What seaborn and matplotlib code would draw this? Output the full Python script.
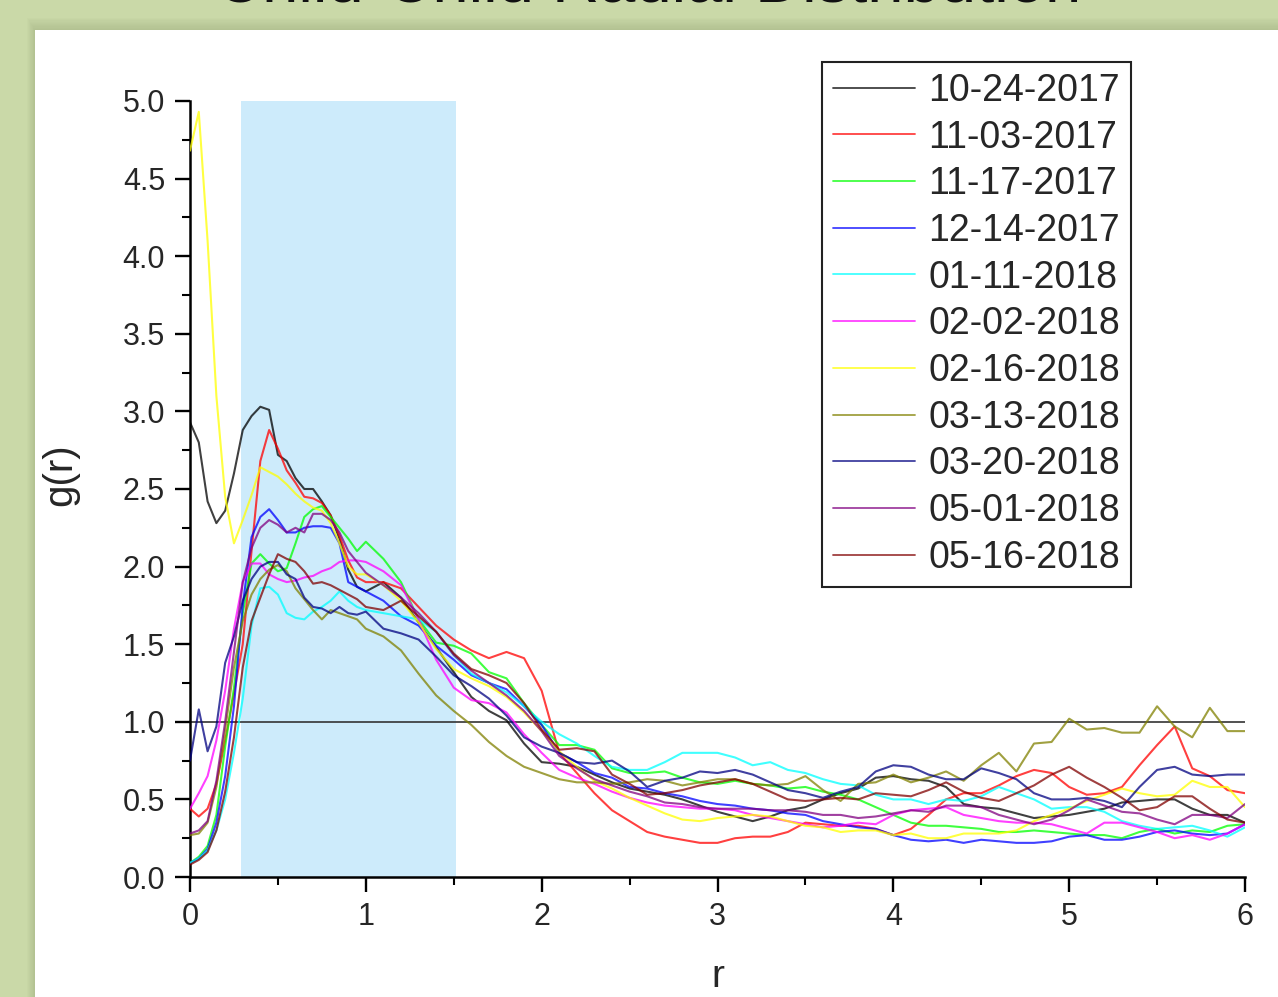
import numpy as np
import pandas as pd
import matplotlib
matplotlib.use("Agg")
import matplotlib.pyplot as plt
from matplotlib.patches import Rectangle
import seaborn as sns

# radial grid: fine spacing near the first peak, coarser further out
r = np.concatenate([np.round(np.arange(0, 1.0001, 0.05), 2),
                    np.round(np.arange(1.1, 6.0001, 0.1), 2)])

dates = ["10-24-2017", "11-03-2017", "11-17-2017", "12-14-2017", "01-11-2018",
         "02-02-2018", "02-16-2018", "03-13-2018", "03-20-2018", "05-01-2018",
         "05-16-2018"]

g_1024_2017 = [2.93, 2.80, 2.42, 2.28, 2.36, 2.60, 2.88, 2.97, 3.03, 3.01, 2.72,
               2.68, 2.57, 2.50, 2.50, 2.42, 2.33, 2.18, 1.98, 1.87, 1.84,
               1.90, 1.80, 1.64, 1.48, 1.32, 1.16, 1.07, 1.01, 0.86, 0.74,
               0.73, 0.71, 0.66, 0.61, 0.57, 0.55, 0.53, 0.50, 0.46, 0.42,
               0.39, 0.36, 0.39, 0.43, 0.45, 0.50, 0.54, 0.57, 0.64, 0.65,
               0.63, 0.62, 0.58, 0.47, 0.45, 0.44, 0.41, 0.38, 0.39, 0.40,
               0.42, 0.44, 0.48, 0.49, 0.50, 0.50, 0.44, 0.40, 0.40, 0.35]
g_1103_2017 = [0.44, 0.39, 0.44, 0.60, 0.88, 1.18, 1.50, 2.10, 2.68, 2.88, 2.76,
               2.62, 2.54, 2.45, 2.44, 2.41, 2.33, 2.20, 2.04, 1.93, 1.90,
               1.90, 1.86, 1.74, 1.62, 1.53, 1.46, 1.41, 1.45, 1.41, 1.20,
               0.80, 0.67, 0.54, 0.43, 0.36, 0.29, 0.26, 0.24, 0.22, 0.22,
               0.25, 0.26, 0.26, 0.29, 0.35, 0.34, 0.33, 0.33, 0.31, 0.27,
               0.31, 0.40, 0.50, 0.54, 0.54, 0.59, 0.65, 0.69, 0.67, 0.58,
               0.53, 0.54, 0.58, 0.72, 0.85, 0.97, 0.70, 0.65, 0.56, 0.54]
g_1117_2017 = [0.09, 0.13, 0.20, 0.40, 0.84, 1.22, 1.70, 2.02, 2.08, 2.02, 1.97,
               1.99, 2.15, 2.32, 2.37, 2.39, 2.32, 2.25, 2.18, 2.10, 2.16,
               2.05, 1.90, 1.66, 1.51, 1.49, 1.44, 1.32, 1.28, 1.12, 0.98,
               0.85, 0.85, 0.82, 0.70, 0.67, 0.67, 0.68, 0.64, 0.61, 0.60,
               0.62, 0.60, 0.59, 0.57, 0.58, 0.55, 0.53, 0.50, 0.45, 0.40,
               0.35, 0.33, 0.33, 0.32, 0.31, 0.29, 0.29, 0.30, 0.29, 0.28,
               0.27, 0.27, 0.25, 0.29, 0.31, 0.28, 0.30, 0.29, 0.33, 0.34]
g_1214_2017 = [0.09, 0.12, 0.18, 0.35, 0.65, 1.10, 1.75, 2.19, 2.32, 2.37, 2.30,
               2.22, 2.22, 2.25, 2.26, 2.26, 2.25, 2.15, 1.90, 1.87, 1.84,
               1.78, 1.68, 1.62, 1.49, 1.40, 1.30, 1.25, 1.21, 1.10, 0.98,
               0.80, 0.74, 0.67, 0.64, 0.58, 0.57, 0.54, 0.52, 0.49, 0.47,
               0.46, 0.44, 0.43, 0.41, 0.40, 0.36, 0.34, 0.32, 0.31, 0.27,
               0.24, 0.23, 0.24, 0.22, 0.24, 0.23, 0.22, 0.22, 0.23, 0.26,
               0.27, 0.24, 0.24, 0.26, 0.29, 0.30, 0.28, 0.27, 0.28, 0.34]
g_0111_2018 = [0.09, 0.12, 0.17, 0.30, 0.50, 0.80, 1.15, 1.62, 1.86, 1.87, 1.82,
               1.70, 1.67, 1.66, 1.71, 1.74, 1.78, 1.84, 1.78, 1.74, 1.72,
               1.70, 1.68, 1.66, 1.58, 1.43, 1.31, 1.25, 1.19, 1.10, 1.00,
               0.92, 0.86, 0.78, 0.71, 0.69, 0.69, 0.74, 0.80, 0.80, 0.80,
               0.77, 0.72, 0.74, 0.69, 0.67, 0.63, 0.60, 0.59, 0.53, 0.50,
               0.50, 0.47, 0.50, 0.49, 0.52, 0.58, 0.54, 0.50, 0.44, 0.45,
               0.45, 0.42, 0.36, 0.33, 0.31, 0.32, 0.33, 0.30, 0.26, 0.32]
g_0202_2018 = [0.44, 0.54, 0.65, 0.88, 1.20, 1.60, 1.90, 2.02, 2.02, 1.95, 1.92,
               1.90, 1.91, 1.93, 1.94, 1.97, 1.99, 2.03, 2.04, 2.04, 2.03,
               1.97, 1.88, 1.66, 1.40, 1.22, 1.14, 1.12, 1.06, 0.92, 0.80,
               0.69, 0.64, 0.60, 0.55, 0.51, 0.48, 0.46, 0.45, 0.44, 0.44,
               0.43, 0.40, 0.38, 0.36, 0.34, 0.32, 0.33, 0.35, 0.34, 0.40,
               0.43, 0.44, 0.45, 0.40, 0.38, 0.36, 0.35, 0.35, 0.34, 0.31,
               0.28, 0.35, 0.35, 0.32, 0.29, 0.25, 0.27, 0.24, 0.28, 0.34]
g_0216_2018 = [4.68, 4.93, 4.10, 3.10, 2.45, 2.15, 2.30, 2.46, 2.64, 2.61, 2.58,
               2.53, 2.47, 2.42, 2.38, 2.36, 2.28, 2.15, 2.00, 1.95, 1.95,
               1.88, 1.78, 1.64, 1.47, 1.34, 1.28, 1.23, 1.16, 1.06, 0.94,
               0.81, 0.71, 0.62, 0.57, 0.51, 0.46, 0.41, 0.37, 0.36, 0.38,
               0.39, 0.40, 0.39, 0.36, 0.33, 0.32, 0.29, 0.30, 0.30, 0.27,
               0.28, 0.25, 0.25, 0.28, 0.28, 0.28, 0.30, 0.36, 0.40, 0.44,
               0.49, 0.53, 0.57, 0.54, 0.52, 0.53, 0.62, 0.58, 0.58, 0.45]
g_0313_2018 = [0.27, 0.28, 0.35, 0.58, 0.95, 1.35, 1.65, 1.82, 1.92, 1.98, 2.01,
               1.97, 1.86, 1.79, 1.72, 1.66, 1.72, 1.70, 1.68, 1.66, 1.60,
               1.55, 1.46, 1.31, 1.17, 1.07, 0.98, 0.87, 0.78, 0.71, 0.67,
               0.63, 0.61, 0.61, 0.60, 0.61, 0.63, 0.62, 0.59, 0.61, 0.63,
               0.63, 0.60, 0.59, 0.60, 0.65, 0.56, 0.49, 0.60, 0.61, 0.66,
               0.61, 0.64, 0.68, 0.62, 0.72, 0.80, 0.68, 0.86, 0.87, 1.02,
               0.95, 0.96, 0.93, 0.93, 1.10, 0.97, 0.90, 1.09, 0.94, 0.94]
g_0320_2018 = [0.75, 1.08, 0.81, 0.97, 1.38, 1.55, 1.78, 1.92, 2.00, 2.03, 2.03,
               1.95, 1.92, 1.80, 1.74, 1.73, 1.70, 1.74, 1.70, 1.69, 1.71,
               1.60, 1.57, 1.53, 1.42, 1.30, 1.23, 1.15, 1.04, 0.90, 0.84,
               0.80, 0.74, 0.73, 0.75, 0.68, 0.58, 0.62, 0.64, 0.68, 0.67,
               0.69, 0.66, 0.61, 0.56, 0.54, 0.51, 0.55, 0.58, 0.68, 0.72,
               0.71, 0.66, 0.63, 0.63, 0.70, 0.67, 0.63, 0.54, 0.50, 0.50,
               0.51, 0.49, 0.45, 0.58, 0.69, 0.71, 0.66, 0.65, 0.66, 0.66]
g_0501_2018 = [0.28, 0.30, 0.36, 0.62, 1.00, 1.45, 1.90, 2.12, 2.25, 2.30, 2.27,
               2.22, 2.25, 2.22, 2.34, 2.34, 2.30, 2.22, 2.10, 2.03, 1.96,
               1.88, 1.80, 1.70, 1.58, 1.43, 1.33, 1.25, 1.17, 1.07, 0.94,
               0.78, 0.70, 0.63, 0.59, 0.55, 0.52, 0.48, 0.47, 0.45, 0.44,
               0.44, 0.44, 0.43, 0.43, 0.42, 0.40, 0.40, 0.38, 0.39, 0.41,
               0.43, 0.42, 0.46, 0.46, 0.45, 0.40, 0.37, 0.34, 0.37, 0.43,
               0.50, 0.46, 0.42, 0.41, 0.37, 0.34, 0.40, 0.40, 0.38, 0.47]
g_0516_2018 = [0.08, 0.11, 0.16, 0.30, 0.55, 0.90, 1.35, 1.65, 1.80, 1.95, 2.08,
               2.05, 2.03, 1.97, 1.89, 1.90, 1.88, 1.85, 1.82, 1.79, 1.74,
               1.72, 1.78, 1.68, 1.58, 1.44, 1.34, 1.30, 1.25, 1.12, 0.95,
               0.82, 0.83, 0.81, 0.66, 0.60, 0.53, 0.54, 0.56, 0.59, 0.61,
               0.63, 0.60, 0.55, 0.50, 0.49, 0.50, 0.51, 0.50, 0.54, 0.53,
               0.52, 0.56, 0.61, 0.55, 0.51, 0.49, 0.54, 0.59, 0.66, 0.71,
               0.64, 0.58, 0.51, 0.43, 0.45, 0.52, 0.52, 0.44, 0.37, 0.35]

series = [g_1024_2017, g_1103_2017, g_1117_2017, g_1214_2017, g_0111_2018,
          g_0202_2018, g_0216_2018, g_0313_2018, g_0320_2018, g_0501_2018,
          g_0516_2018]

line_colors = ["#000000", "#ff0000", "#00ff00", "#0000ff", "#00ffff", "#ff00ff",
               "#ffff00", "#808000", "#000080", "#800080", "#800000"]

df = pd.concat([pd.DataFrame({"r": r, "g(r)": vals, "date": d})
                for d, vals in zip(dates, series)], ignore_index=True)

sns.set_style("ticks")
plt.rcParams["font.family"] = ["Liberation Sans", "DejaVu Sans"]

fig = plt.figure(figsize=(12.78, 9.97), dpi=100)
fig.patch.set_facecolor("#cad9a8")

# slide-style white panel with a soft shadow along its top and left edges
for i in range(10):
    fig.patches.append(Rectangle((35 / 1278 - (10 - i) * 0.0006, 0),
                                 1.0, (967 + (10 - i) * 1.2) / 997,
                                 transform=fig.transFigure, facecolor="#8a9a6a",
                                 alpha=0.035, edgecolor="none", zorder=-3))
fig.patches.append(Rectangle((35 / 1278, 0), 1.0, 967 / 997,
                             transform=fig.transFigure, facecolor="white",
                             edgecolor="none", zorder=-2))

fig.text(0.507, 1 - 1 / 997, "Child-Child Radial Distribution", ha="center",
         va="baseline", fontsize=47, color="#111111")

ax = fig.add_axes([190 / 1278, 1 - 877 / 997, 1055 / 1278, 776 / 997])
ax.set_facecolor("none")

ax.axvspan(0.29, 1.51, color="#cdebfb", zorder=0, lw=0)

sns.lineplot(data=df, x="r", y="g(r)", hue="date", hue_order=dates,
             palette=line_colors, estimator=None, sort=False, lw=1.5,
             alpha=0.75, ax=ax, zorder=3)

ax.axhline(1.0, color="#333333", lw=1.4, alpha=0.85, zorder=2)

ax.set_xlim(0, 6)
ax.set_ylim(0, 5.0)
ax.set_xticks(np.arange(0, 7, 1))
ax.set_xticks(np.arange(0.5, 6, 1), minor=True)
ax.set_yticks(np.arange(0, 5.01, 0.5))
ax.set_yticks(np.arange(0.25, 5, 0.5), minor=True)
ax.set_yticklabels([f"{v:.1f}" for v in np.arange(0, 5.01, 0.5)])
ax.tick_params(axis="both", which="major", direction="out", length=10.5,
               width=1.7, labelsize=22, pad=7.5, color="black")
ax.tick_params(axis="both", which="minor", direction="out", length=6,
               width=1.5, color="black")
for side in ["top", "right"]:
    ax.spines[side].set_visible(False)
for side in ["left", "bottom"]:
    ax.spines[side].set_linewidth(1.8)
    ax.spines[side].set_color("black")

ax.set_xlabel("r", fontsize=28)
ax.set_ylabel("g(r)", fontsize=29)
ax.xaxis.set_label_coords(0.5, -0.1053)
ax.yaxis.set_label_coords(-0.1052, 0.518)

handles, labels = ax.get_legend_handles_labels()
leg = ax.legend(handles, labels, loc="upper left",
                bbox_to_anchor=(822 / 1278, 1 - 62 / 997),
                bbox_transform=fig.transFigure, borderaxespad=0,
                fontsize=27, frameon=True, fancybox=False, framealpha=1,
                edgecolor="#222222", handlelength=2.2, handletextpad=0.35,
                labelspacing=0.285, borderpad=0.29)
leg.get_frame().set_linewidth(1.5)
for h in leg.get_lines():
    h.set_linewidth(1.3)

fig.savefig("out.png", dpi=100, facecolor=fig.get_facecolor())
